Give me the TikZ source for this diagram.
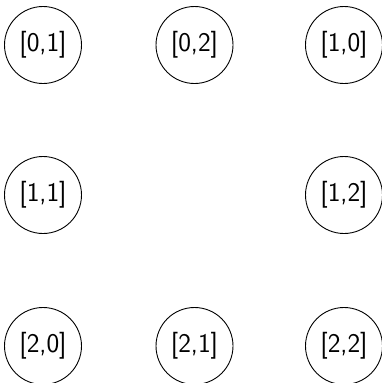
\documentclass[tikz,border=0pt]{standalone}
\begin{document}
\begin{tikzpicture}[x=1pt,y=-1pt,
  cell/.style={circle,draw,line width=0.9pt,minimum size=77pt,inner sep=0pt,font=\sffamily\fontsize{27}{27}\selectfont}]
\useasboundingbox (0,0) rectangle (382,383);
\node[cell] (a01) at (43,45) {[0,1]};
\node[cell] (a02) at (194.5,45) {[0,2]};
\node[cell] (a10) at (344,45) {[1,0]};
\node[cell] (a11) at (43,195) {[1,1]};
\node[cell] (a12) at (344,195) {[1,2]};
\node[cell] (a20) at (43,346) {[2,0]};
\node[cell] (a21) at (194.5,346) {[2,1]};
\node[cell] (a22) at (344,346) {[2,2]};
\end{tikzpicture}
\end{document}
